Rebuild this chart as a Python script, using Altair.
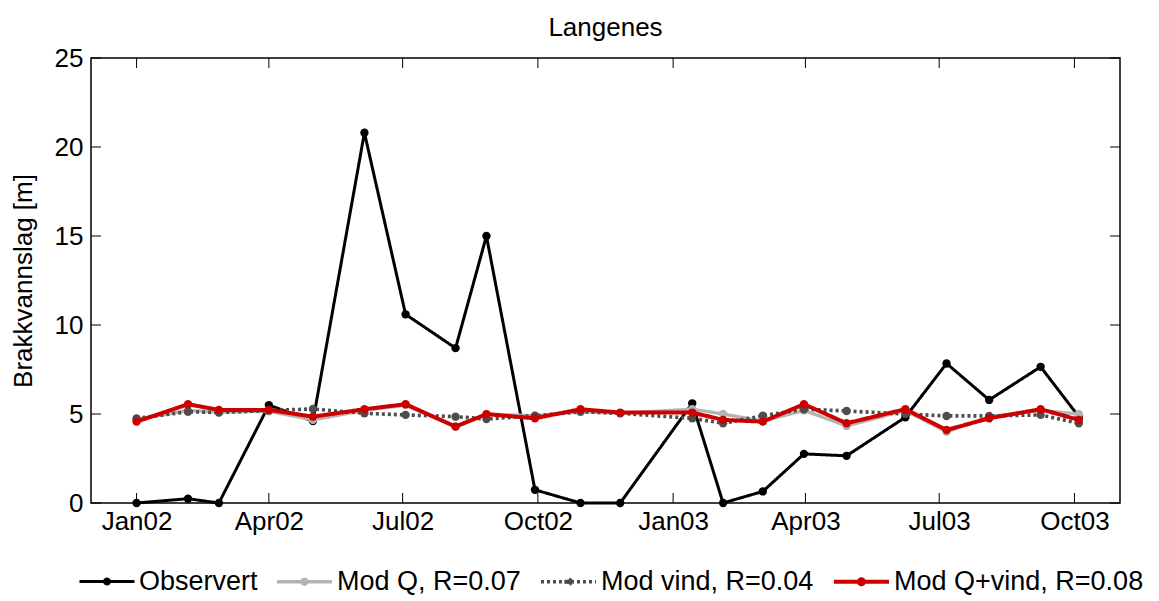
import altair as alt
import pandas as pd

dates = ["2002-01-01", "2002-02-05", "2002-02-26", "2002-04-01", "2002-05-01",
         "2002-06-05", "2002-07-03", "2002-08-06", "2002-08-27", "2002-09-29",
         "2002-10-30", "2002-11-26", "2003-01-14", "2003-02-04", "2003-03-03",
         "2003-03-31", "2003-04-29", "2003-06-08", "2003-07-06", "2003-08-04",
         "2003-09-08", "2003-10-04"]
observed = [0.0, 0.24, 0.0, 5.5, 4.6, 20.8, 10.6, 8.7, 15.0, 0.74, 0.0, 0.0,
            5.6, 0.0, 0.65, 2.76, 2.65, 4.82, 7.84, 5.79, 7.65, 4.85]
mod_q = [4.7, 5.2, 5.1, 5.15, 4.67, 5.2, 5.5, 4.3, 5.0, 4.9, 5.13, 5.04,
         5.27, 5.0, 4.6, 5.2, 4.33, 5.2, 4.0, 4.85, 5.2, 5.0]
mod_vind = [4.75, 5.13, 5.08, 5.2, 5.28, 5.04, 4.95, 4.85, 4.72, 4.9, 5.13, 5.04,
            4.76, 4.48, 4.9, 5.27, 5.17, 5.0, 4.89, 4.89, 4.95, 4.48]
mod_qvind = [4.57, 5.55, 5.23, 5.23, 4.85, 5.27, 5.55, 4.29, 4.99, 4.76, 5.27, 5.08,
             5.08, 4.67, 4.57, 5.55, 4.48, 5.27, 4.1, 4.76, 5.27, 4.67]

series_names = ["Observert", "Mod Q, R=0.07", "Mod vind, R=0.04", "Mod Q+vind, R=0.08"]
series_colors = ["#000000", "#b4b4b4", "#4d4d4d", "#cc0000"]
series_dash = [[1, 0], [1, 0], [3, 3], [1, 0]]
series_width = [3, 4, 3, 3]

x_tick_dates = ["2002-01-01", "2002-04-01", "2002-07-01", "2002-10-01",
                "2003-01-01", "2003-04-01", "2003-07-01", "2003-10-01"]
y_ticks = [0, 5, 10, 15, 20, 25]

rows = []
for name, vals in zip(series_names, [observed, mod_q, mod_vind, mod_qvind]):
    for d, v in zip(dates, vals):
        rows.append({"date": d + "T00:00:00", "value": v, "series": name})
df = pd.DataFrame(rows)

W, H = 1029, 445
FONT = "Liberation Sans"
FS = 26


def dt(s):
    y, m, d = [int(p) for p in s.split("-")]
    return alt.DateTime(year=y, month=m, date=d)


xscale = alt.Scale(domain=[dt("2001-12-01"), dt("2003-11-01")])
yscale = alt.Scale(domain=[0, 25], nice=False)

sym_path = "M-1,0H1M0.09,0A0.09,0.09,0,1,1,-0.09,0A0.09,0.09,0,1,1,0.09,0"
legend = alt.Legend(
    title=None, orient="none", direction="horizontal",
    legendX=-13, legendY=494,
    symbolType=sym_path, symbolSize=3025, symbolStrokeWidth=3,
    labelFont=FONT, labelFontSize=27, labelColor="black", labelLimit=500,
    labelOffset=3, columnPadding=12, symbolOpacity=1,
)

color_enc = alt.Color("series:N", scale=alt.Scale(domain=series_names, range=series_colors),
                      legend=legend)
dash_enc = alt.StrokeDash("series:N", scale=alt.Scale(domain=series_names, range=series_dash),
                          legend=legend)
width_enc = alt.StrokeWidth("series:N", scale=alt.Scale(domain=series_names, range=series_width),
                            legend=None)

x_enc = alt.X("date:T", scale=xscale,
              axis=alt.Axis(values=[dt(s) for s in x_tick_dates], format="%b%y",
                            ticks=False, domain=False, grid=False, labelFont=FONT,
                            labelFontSize=FS, labelColor="black", labelPadding=5,
                            title=None, labelFlush=False))
y_enc = alt.Y("value:Q", scale=yscale,
              axis=alt.Axis(values=y_ticks, ticks=False, domain=False, grid=False,
                            labelFont=FONT, labelFontSize=FS, labelColor="black",
                            labelPadding=8, title="Brakkvannslag [m]",
                            titleFont=FONT, titleFontSize=FS, titleFontWeight="normal",
                            titleColor="black", titlePadding=18, labelFlush=False))

layers = []
for name in series_names:
    layers.append(
        alt.Chart(df).transform_filter(alt.datum.series == name).mark_line(
            point=alt.OverlayMarkDef(filled=True, size=70, opacity=1)
        ).encode(x=x_enc, y=y_enc, color=color_enc, strokeDash=dash_enc,
                 strokeWidth=width_enc)
    )

xt = pd.DataFrame({"date": [s + "T00:00:00" for s in x_tick_dates]})
yt = pd.DataFrame({"value": y_ticks})
tick_x = alt.X("date:T", scale=xscale)
tick_y = alt.Y("value:Q", scale=yscale)
tx_bottom = alt.Chart(xt).mark_rule(color="black", strokeWidth=1).encode(
    x=tick_x, y=alt.value(H - 10), y2=alt.value(H))
tx_top = alt.Chart(xt).mark_rule(color="black", strokeWidth=1).encode(
    x=tick_x, y=alt.value(0), y2=alt.value(10))
ty_left = alt.Chart(yt).mark_rule(color="black", strokeWidth=1).encode(
    y=tick_y, x=alt.value(0), x2=alt.value(10))
ty_right = alt.Chart(yt).mark_rule(color="black", strokeWidth=1).encode(
    y=tick_y, x=alt.value(W - 10), x2=alt.value(W))

chart = alt.layer(tx_bottom, tx_top, ty_left, ty_right, *layers).properties(
    width=W, height=H,
    title=alt.TitleParams("Langenes", font=FONT, fontSize=FS, fontWeight="normal",
                          color="black", offset=4),
    autosize=alt.AutoSizeParams(type="none"),
    padding={"left": 83, "top": 50, "right": 31, "bottom": 98},
).configure(
    background="white",
    view=alt.ViewConfig(stroke="black", strokeWidth=1.5),
)

chart.save("out.html", embed_options={"renderer": "svg", "actions": False})
